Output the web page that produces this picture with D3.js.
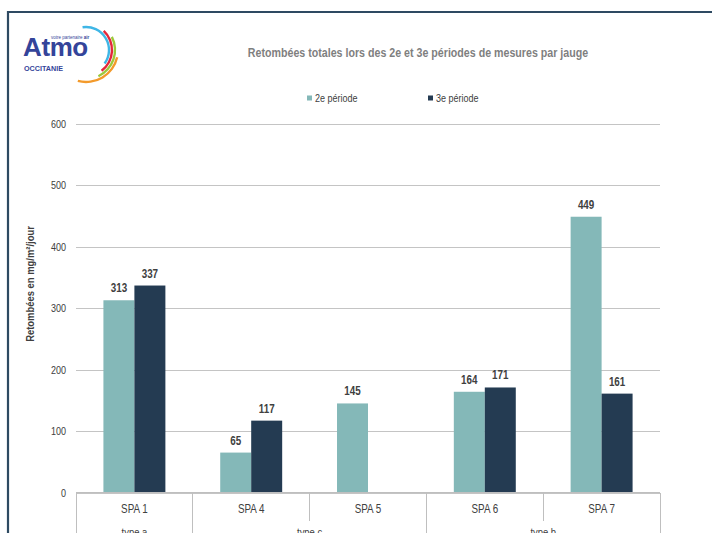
<!DOCTYPE html>
<html>
<head>
<meta charset="utf-8">
<script src="https://cdn.jsdelivr.net/npm/d3@7"></script>
<style>
  html, body { margin: 0; padding: 0; background: #fff; overflow: hidden; }
  svg text { font-family: "Liberation Sans Narrow", "Arial Narrow", "Liberation Sans", Arial, sans-serif; }
</style>
</head>
<body>
<svg id="chart" width="712" height="533"></svg>
<script>
const categories = ["SPA 1", "SPA 4", "SPA 5", "SPA 6", "SPA 7"];
const series = ["2e période", "3e période"];
const period2 = [313, 65, 145, 164, 449];
const period3 = [337, 117, null, 171, 161];
const groups = [
  { name: "type a", members: ["SPA 1"] },
  { name: "type c", members: ["SPA 4", "SPA 5"] },
  { name: "type b", members: ["SPA 6", "SPA 7"] },
];
const yTicks = [0, 100, 200, 300, 400, 500, 600];
const colors = ["#84b8b8", "#243b52"];

const title = "Retombées totales lors des 2e et 3e périodes de mesures par jauge";
const yLabel = "Retombées en mg/m²/jour";

// no narrow font installed, so squeeze Liberation Sans horizontally
const NARROW = 0.82;
const at = (x, y) => `translate(${x},${y}) scale(${NARROW},1)`;

const svg = d3.select("#chart");
const plot = { left: 76, right: 660, top: 124, bottom: 492.5 };

// Frame.
svg.append("path")
  .attr("d", `M8,533 V12 H712`)
  .attr("fill", "none")
  .attr("stroke", "#2e4a62")
  .attr("stroke-width", 2.2);

// Logo.
const logo = svg.append("g");
logo.append("text")
  .attr("x", 23).attr("y", 56)
  .attr("fill", "#34449a")
  .style("font-family", "'Liberation Sans', Arial, sans-serif")
  .style("font-size", "26px").style("font-weight", "bold")
  .style("letter-spacing", "-0.4px")
  .text("Atmo");
logo.append("text")
  .attr("transform", at(51, 39))
  .attr("fill", "#34449a")
  .style("font-size", "5.5px")
  .html('votre partenaire <tspan font-weight="bold">air</tspan>');
logo.append("text")
  .attr("x", 24).attr("y", 70.5)
  .attr("fill", "#34449a")
  .attr("textLength", 39).attr("lengthAdjust", "spacingAndGlyphs")
  .style("font-family", "'Liberation Sans', Arial, sans-serif")
  .style("font-size", "7.5px").style("font-weight", "bold")
  .text("OCCITANIE");
const arcs = [
  { r: 23, a0: -0.15, a1: 2.2, c: "#3fb6e6" },
  { r: 26, a0: 0.75, a1: 2.5, c: "#e3263b" },
  { r: 29, a0: 1.1, a1: 2.7, c: "#9cc93b" },
  { r: 32, a0: 1.8, a1: 3.4, c: "#f39a2b" },
];
logo.selectAll("path.arc").data(arcs).join("path")
  .attr("class", "arc")
  .attr("transform", "translate(86,50)")
  .attr("fill", (d) => d.c)
  .attr("d", (d) => d3.arc()({ innerRadius: d.r - 1.2, outerRadius: d.r + 1.2, startAngle: d.a0, endAngle: d.a1 }));

// Title.
svg.append("text")
  .attr("transform", at(418, 57))
  .attr("text-anchor", "middle")
  .attr("fill", "#7f7f7f")
  .style("font-size", "13px").style("font-weight", "bold")
  .text(title);

// Legend.
const legendX = [307, 428];
const legend = svg.append("g");
series.forEach((s, i) => {
  legend.append("rect")
    .attr("x", legendX[i]).attr("y", 95.5)
    .attr("width", 5).attr("height", 5)
    .attr("fill", colors[i]);
  legend.append("text")
    .attr("transform", at(legendX[i] + 8, 102))
    .attr("fill", "#404040")
    .style("font-size", "11px")
    .text(s);
});

// Scales.
const y = d3.scaleLinear().domain([0, 600]).range([plot.bottom, plot.top]);
const x0 = d3.scaleBand().domain(categories).range([plot.left, plot.right]).paddingInner(0).paddingOuter(0);
const x1 = d3.scaleBand().domain(series).range([0, x0.bandwidth()]).paddingInner(0).paddingOuter(0.885);

// Grid + y labels.
const yAxis = d3.axisLeft(y).tickValues(yTicks).tickSize(-(plot.right - plot.left)).tickPadding(0);
const yAxisG = svg.append("g")
  .attr("transform", `translate(${plot.left},0)`)
  .call(yAxis);
yAxisG.select(".domain").remove();
yAxisG.selectAll(".tick line").attr("stroke", "#c4c4c4").attr("shape-rendering", "crispEdges");
yAxisG.selectAll(".tick text")
  .attr("x", null)
  .attr("transform", at(-10, 0))
  .attr("fill", "#404040")
  .style("font-size", "11px")
  .style("font-family", "'Liberation Sans Narrow', 'Arial Narrow', 'Liberation Sans', sans-serif");

svg.append("text")
  .attr("transform", `translate(34,284) rotate(-90) scale(${NARROW},1)`)
  .attr("text-anchor", "middle")
  .attr("fill", "#404040")
  .style("font-size", "11.5px").style("font-weight", "bold")
  .text(yLabel);

// Bars.
const rows = categories.map((c, i) => ({ cat: c, values: [period2[i], period3[i]] }));
const barG = svg.append("g").selectAll("g").data(rows).join("g")
  .attr("transform", (d) => `translate(${x0(d.cat)},0)`);
barG.selectAll("rect")
  .data((d) => d.values.map((v, i) => ({ s: series[i], v, i })).filter((e) => e.v != null))
  .join("rect")
  .attr("x", (d) => x1(d.s))
  .attr("y", (d) => y(d.v))
  .attr("width", x1.bandwidth())
  .attr("height", (d) => y(0) - y(d.v))
  .attr("fill", (d) => colors[d.i]);
barG.selectAll("text")
  .data((d) => d.values.map((v, i) => ({ s: series[i], v, i })).filter((e) => e.v != null))
  .join("text")
  .attr("transform", (d) => at(x1(d.s) + x1.bandwidth() / 2, y(d.v) - 8))
  .attr("text-anchor", "middle")
  .attr("fill", "#404040")
  .style("font-size", "12px").style("font-weight", "bold")
  .text((d) => d.v);

// Category axis (two levels).
const axisG = svg.append("g").attr("stroke", "#bfbfbf").attr("shape-rendering", "crispEdges");
axisG.append("line")
  .attr("x1", plot.left).attr("x2", plot.right)
  .attr("y1", y(0)).attr("y2", y(0));
const groupEdges = new Set([plot.left, plot.right]);
groups.forEach((g) => {
  groupEdges.add(x0(g.members[0]));
  groupEdges.add(x0(g.members[g.members.length - 1]) + x0.bandwidth());
});
categories.forEach((c) => {
  const xe = x0(c);
  axisG.append("line")
    .attr("x1", xe).attr("x2", xe)
    .attr("y1", y(0)).attr("y2", groupEdges.has(xe) ? 540 : 521);
});
axisG.append("line")
  .attr("x1", plot.right).attr("x2", plot.right)
  .attr("y1", y(0)).attr("y2", 540);

svg.append("g").selectAll("text").data(categories).join("text")
  .attr("transform", (d) => at(x0(d) + x0.bandwidth() / 2, 513))
  .attr("text-anchor", "middle")
  .attr("fill", "#404040")
  .style("font-size", "12px")
  .text((d) => d);

svg.append("g").selectAll("text").data(groups).join("text")
  .attr("transform", (d) => at((x0(d.members[0]) + x0(d.members[d.members.length - 1]) + x0.bandwidth()) / 2, 536))
  .attr("text-anchor", "middle")
  .attr("fill", "#404040")
  .style("font-size", "11.5px")
  .text((d) => d.name);
</script>
</body>
</html>
